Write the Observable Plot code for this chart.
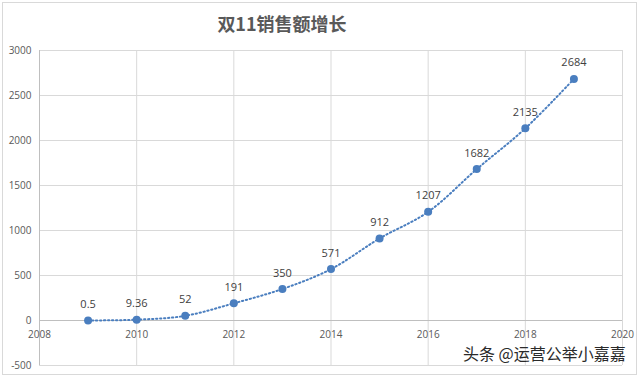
<!DOCTYPE html>
<html><head><meta charset="utf-8">
<script src="https://cdn.jsdelivr.net/npm/d3@7"></script>
<script src="https://cdn.jsdelivr.net/npm/@observablehq/plot@0.6"></script>
<style>
body{margin:0;background:#fff;}
#wrap{position:relative;width:640px;height:378px;overflow:hidden;font-family:"Noto Sans CJK SC","Noto Sans",sans-serif;}
#frame{position:absolute;left:2px;top:2px;width:633px;height:371px;border:1px solid #d9d9d9;pointer-events:none;}
#title{position:absolute;left:0;top:0;width:564px;height:40px;line-height:46px;text-align:center;font-size:18px;font-weight:bold;color:#595959;}
#chart{position:absolute;left:0;top:40px;}
#wm{position:absolute;left:463px;top:341px;font-size:16px;color:#2a2a2a;white-space:nowrap;}
</style></head>
<body>
<div id="wrap">
  <div id="title">双11销售额增长</div>
  <div id="chart"></div>
  <div id="wm">头条 @运营公举小嘉嘉</div>
  <div id="frame"></div>
</div>
<script>
const years = [2009, 2010, 2011, 2012, 2013, 2014, 2015, 2016, 2017, 2018, 2019];
const sales = [0.5, 9.36, 52, 191, 350, 571, 912, 1207, 1682, 2135, 2684];
const labels = ["0.5", "9.36", "52", "191", "350", "571", "912", "1207", "1682", "2135", "2684"];
const xTicks = [2008, 2010, 2012, 2014, 2016, 2018, 2020];
const yTicks = [-500, 0, 500, 1000, 1500, 2000, 2500, 3000];

const data = years.map((y, i) => ({year: y, value: sales[i], label: labels[i]}));
const xt = xTicks.map(t => ({t}));

const blue = "#4a7ebf";
const chart = Plot.plot({
  width: 640,
  height: 338,
  marginLeft: 39,
  marginRight: 18,
  marginTop: 10,
  marginBottom: 13,
  style: {fontFamily: "'Open Sans','Liberation Sans',sans-serif", fontSize: "10px", color: "#595959", background: "#fff"},
  x: {domain: [2008, 2020], axis: null},
  y: {domain: [-500, 3000], ticks: yTicks, tickSize: 0, tickPadding: 8, label: null, tickFormat: d => String(d)},
  marks: [
    Plot.ruleY(yTicks, {stroke: "#d9d9d9", strokeOpacity: 1}),
    Plot.ruleX(xTicks, {stroke: "#d9d9d9", strokeOpacity: 1}),
    Plot.ruleY([0], {stroke: "#bfbfbf"}),
    Plot.ruleX([2008], {stroke: "#bfbfbf"}),
    Plot.text(xt, {x: "t", y: () => 0, text: d => String(d.t), dy: 14, fill: "#595959", fontSize: 10}),
    Plot.line(data, {x: "year", y: "value", stroke: blue, strokeWidth: 2, strokeDasharray: "1.3,2.7", curve: "catmull-rom"}),
    Plot.dot(data, {x: "year", y: "value", r: 4, fill: blue, stroke: "none"}),
    Plot.text(data, {x: "year", y: "value", text: "label", dy: -16, fill: "#404040", fontSize: 11})
  ]
});
document.getElementById("chart").append(chart);
</script>
</body></html>
